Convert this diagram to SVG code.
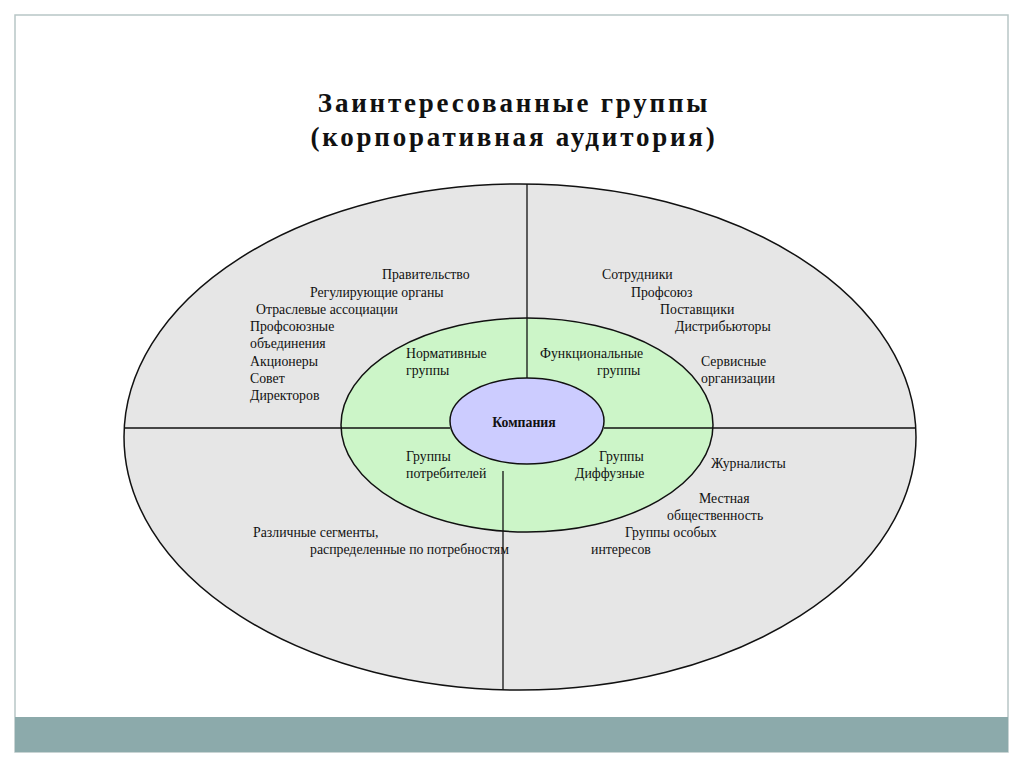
<svg xmlns="http://www.w3.org/2000/svg" width="1024" height="767" viewBox="0 0 1024 767">
<style>
.t{font-family:"Liberation Serif",serif;font-size:13.8px;fill:#111}
.h{font-family:"Liberation Serif",serif;font-size:27px;font-weight:bold;fill:#111;text-anchor:middle;letter-spacing:2.8px}
.ln{stroke:#111;stroke-width:1.3;fill:none}
</style>
<rect width="1024" height="767" fill="#fff"/>
<rect x="15" y="15" width="993" height="737" fill="#fff" stroke="#b8c6c6" stroke-width="1.5"/>
<rect x="15" y="717" width="993" height="35" fill="#8caaab"/>
<text class="h" x="514" y="112">Заинтересованные группы</text>
<text class="h" x="514" y="146">(корпоративная аудитория)</text>
<g id="outer"><ellipse cx="520" cy="437" rx="396" ry="253" fill="#e6e6e6" stroke="#111" stroke-width="1.5"/></g>
<g id="connectors">
<line class="ln" x1="527" y1="184" x2="527" y2="307"/>
<line class="ln" x1="124" y1="428" x2="341" y2="428"/>
<line class="ln" x1="714" y1="428" x2="916" y2="428"/>
<line class="ln" x1="503" y1="532" x2="503" y2="690"/>
</g>
<g id="middle">
<ellipse cx="527" cy="425" rx="186" ry="107" fill="#ccf5c8" stroke="#111" stroke-width="1.5"/>
<line class="ln" x1="527" y1="307" x2="527" y2="379"/>
<line class="ln" x1="341" y1="428" x2="450" y2="428"/>
<line class="ln" x1="604" y1="428" x2="714" y2="428"/>
<line class="ln" x1="503" y1="471" x2="503" y2="532"/>
<text class="t" x="406" y="358">Нормативные</text>
<text class="t" x="406" y="375">группы</text>
<text class="t" x="540" y="358">Функциональные</text>
<text class="t" x="597" y="375">группы</text>
<text class="t" x="406" y="461">Группы</text>
<text class="t" x="406" y="478">потребителей</text>
<text class="t" x="599" y="461">Группы</text>
<text class="t" x="575" y="478">Диффузные</text>
</g>
<g id="company">
<ellipse cx="527" cy="421" rx="77" ry="43" fill="#ccccff" stroke="#111" stroke-width="1.5"/>
<text class="t" x="524" y="427" text-anchor="middle" font-weight="bold">Компания</text>
</g>
<g id="labels">
<text class="t" x="382" y="279">Правительство</text>
<text class="t" x="310" y="297">Регулирующие органы</text>
<text class="t" x="256" y="314">Отраслевые  ассоциации</text>
<text class="t" x="250" y="331">Профсоюзные</text>
<text class="t" x="250" y="348">объединения</text>
<text class="t" x="250" y="366">Акционеры</text>
<text class="t" x="250" y="383">Совет</text>
<text class="t" x="250" y="400">Директоров</text>
<text class="t" x="602" y="279">Сотрудники</text>
<text class="t" x="631" y="297">Профсоюз</text>
<text class="t" x="660" y="314">Поставщики</text>
<text class="t" x="675" y="331">Дистрибьюторы</text>
<text class="t" x="701" y="366">Сервисные</text>
<text class="t" x="701" y="383">организации</text>
<text class="t" x="711" y="468">Журналисты</text>
<text class="t" x="699" y="503">Местная</text>
<text class="t" x="667" y="520">общественность</text>
<text class="t" x="625" y="537">Группы особых</text>
<text class="t" x="591" y="554">интересов</text>
<text class="t" x="253" y="537">Различные сегменты,</text>
<text class="t" x="310" y="554">распределенные  по потребностям</text>
</g>
</svg>
